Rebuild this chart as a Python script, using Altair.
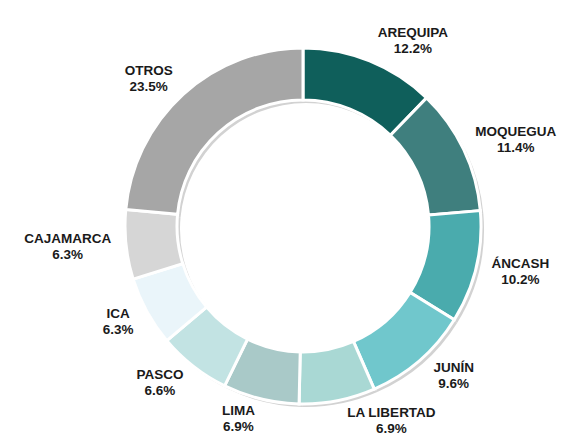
import altair as alt
import pandas as pd

regions = ["AREQUIPA", "MOQUEGUA", "ÁNCASH", "JUNÍN", "LA LIBERTAD", "LIMA", "PASCO", "ICA", "CAJAMARCA", "OTROS"]
shares = [12.2, 11.4, 10.2, 9.6, 6.9, 6.9, 6.6, 6.3, 6.3, 23.5]
colors = ["#0f5f5b", "#3f7f7e", "#4aabad", "#70c7cc", "#a9d8d4", "#a9c9c8", "#c2e3e3", "#eaf5fa", "#d6d6d6", "#a6a6a6"]

df = pd.DataFrame({"region": regions, "share": shares, "order": list(range(len(regions)))})
df["label"] = [f"{r}\n{s:.1f}%" for r, s in zip(regions, shares)]

cx, cy = 295, 218
rx, ry = 195, 199
half_char = 4.6

base = alt.Chart(df).encode(
    theta=alt.Theta("share:Q", stack=True),
    order=alt.Order("order:Q"),
)

shadow = base.mark_arc(radius=178, radius2=126, color="#d2d2d2").encode(
    x=alt.value(cx + 3), y=alt.value(cy + 3)
)

ring = base.mark_arc(radius=178, radius2=126, stroke="white", strokeWidth=3).encode(
    x=alt.value(cx), y=alt.value(cy),
    color=alt.Color("region:N", scale=alt.Scale(domain=regions, range=colors), legend=None),
)

labels = alt.Chart(df).transform_window(
    cum="sum(share)", sort=[alt.SortField("order")]
).transform_joinaggregate(
    total="sum(share)"
).transform_calculate(
    ang="(datum.cum - datum.share / 2) / datum.total * 2 * PI",
).transform_calculate(
    lx=f"{cx} + {rx} * sin(datum.ang) + (sin(datum.ang) >= 0 ? 1 : -1) * length(datum.region) * {half_char}",
    ly=f"{cy} - {ry} * cos(datum.ang)",
).mark_text(
    font="Liberation Sans", fontWeight="bold", fontSize=13.5, dy=-8,
    lineBreak="\n", lineHeight=16, align="center", baseline="middle", color="#1a1a1a",
).encode(
    x=alt.X("lx:Q", scale=None, axis=None),
    y=alt.Y("ly:Q", scale=None, axis=None),
    text="label:N",
)

chart = alt.layer(shadow, ring, labels).properties(
    width=556, height=428, padding=0, autosize=alt.AutoSizeParams(type="none")
).configure_view(stroke=None)

chart.save("out.html", embed_options={"renderer": "svg", "actions": False})
